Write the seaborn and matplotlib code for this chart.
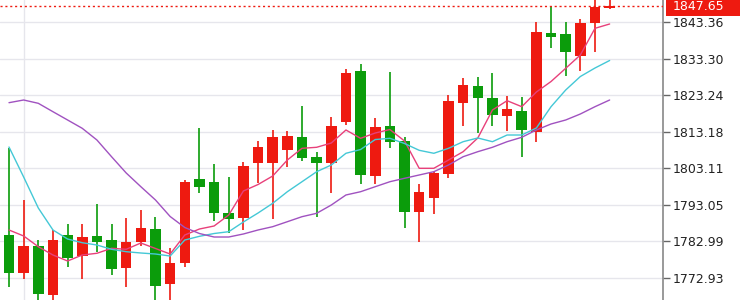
import numpy as np
import pandas as pd
import matplotlib
matplotlib.use("Agg")
import matplotlib.pyplot as plt
import matplotlib.transforms as mtransforms
from matplotlib.patches import Rectangle
import seaborn as sns

# ---- data ----
opens = [1784.76, 1774.39, 1781.74, 1768.26, 1784.85, 1778.99, 1784.49, 1783.39, 1775.82, 1782.76,
         1786.50, 1771.20, 1777.14, 1800.09, 1799.34, 1790.73, 1789.36, 1804.49, 1804.49, 1808.15,
         1811.64, 1806.14, 1804.65, 1815.77, 1829.96, 1801.08, 1814.83, 1810.71, 1791.01, 1795.02,
         1801.46, 1821.16, 1825.84, 1822.53, 1817.50, 1818.88, 1813.18, 1840.25, 1839.98, 1834.09,
         1843.00, 1847.30]
highs = [1808.83, 1794.39, 1783.39, 1786.14, 1787.71, 1787.71, 1793.21, 1787.71, 1789.52, 1791.64,
         1789.63, 1781.10, 1799.89, 1814.28, 1804.30, 1800.64, 1804.93, 1810.71, 1813.65, 1813.46,
         1820.25, 1807.68, 1817.14, 1830.35, 1831.81, 1816.87, 1829.69, 1811.64, 1798.71, 1802.18,
         1823.28, 1828.04, 1828.15, 1829.25, 1823.09, 1822.81, 1843.28, 1847.84, 1843.28, 1844.19,
         1850.00, 1850.00]
lows = [1770.32, 1772.58, 1766.33, 1766.61, 1776.04, 1772.58, 1780.09, 1773.68, 1770.38, 1781.74,
        1766.33, 1766.33, 1775.88, 1796.24, 1788.62, 1785.23, 1786.14, 1799.15, 1789.17, 1803.39,
        1805.20, 1789.80, 1796.40, 1815.02, 1798.71, 1798.71, 1808.61, 1786.61, 1782.92, 1790.54,
        1800.36, 1814.83, 1812.74, 1814.83, 1813.37, 1806.14, 1810.43, 1836.12, 1828.59, 1829.88,
        1835.02, 1846.94]
closes = [1774.39, 1781.82, 1768.53, 1783.39, 1778.52, 1784.13, 1782.84, 1775.33, 1782.89, 1786.77,
          1770.73, 1776.98, 1799.43, 1797.89, 1790.90, 1789.17, 1803.61, 1808.89, 1811.81, 1812.08,
          1806.03, 1804.49, 1814.75, 1829.25, 1801.27, 1814.56, 1810.27, 1791.01, 1796.51, 1801.74,
          1821.63, 1826.03, 1822.37, 1817.78, 1819.43, 1813.65, 1840.53, 1839.15, 1835.19, 1843.00,
          1847.50, 1847.65]
ma_fast = [1786.14, 1784.49, 1781.54, 1779.26, 1777.61, 1779.26, 1779.73, 1781.10, 1780.83, 1782.56,
           1781.05, 1779.53, 1784.76, 1786.41, 1787.24, 1790.26, 1796.87, 1798.65, 1800.99, 1805.39,
           1808.61, 1808.89, 1810.07, 1813.65, 1811.36, 1812.82, 1813.78, 1810.62, 1803.11, 1803.11,
           1805.39, 1807.68, 1811.45, 1819.15, 1821.71, 1820.06, 1824.10, 1826.99, 1830.62, 1834.28,
           1841.62, 1842.81]
ma_mid = [1808.97, 1800.72, 1792.19, 1786.14, 1783.66, 1782.64, 1782.01, 1780.83, 1780.17, 1779.81,
          1779.53, 1778.98, 1783.39, 1784.40, 1785.17, 1785.67, 1788.34, 1790.81, 1793.48, 1796.67,
          1799.42, 1802.17, 1804.02, 1807.24, 1808.28, 1811.03, 1811.36, 1809.93, 1808.06, 1807.24,
          1808.61, 1810.43, 1811.45, 1810.43, 1812.27, 1812.27, 1814.20, 1820.06, 1824.65, 1828.36,
          1830.70, 1832.77]
ma_slow = [1821.16, 1821.90, 1820.99, 1818.68, 1816.40, 1814.11, 1810.90, 1806.30, 1801.82, 1798.05,
           1794.39, 1789.85, 1786.82, 1785.17, 1784.21, 1784.21, 1785.04, 1786.14, 1787.05, 1788.42,
           1789.80, 1790.73, 1793.01, 1795.77, 1796.67, 1798.05, 1799.42, 1800.36, 1801.27, 1802.18,
           1804.02, 1806.30, 1807.68, 1808.89, 1810.43, 1811.64, 1813.65, 1815.30, 1816.40, 1818.05,
           1820.06, 1821.90]
y_ticks = [1772.93, 1782.99, 1793.05, 1803.11, 1813.18, 1823.24, 1833.30, 1843.36]
last_price = 1847.65

UP = "#ee1a10"
DOWN = "#0b9c0b"

sns.set_style("white")
plt.rcParams['font.family'] = ['DejaVu Sans']

fig = plt.figure(figsize=(7.4, 3.0), dpi=100)
ax = fig.add_axes([0, 0, 663 / 740, 1])

n = len(opens)
idx = np.arange(n)
df = pd.DataFrame({"i": idx, "open": opens, "high": highs, "low": lows, "close": closes})
df["up"] = df["close"] >= df["open"]
colors = np.where(df["up"], UP, DOWN)

# grid
for t in y_ticks:
    ax.axhline(t, color="#e6e6ec", lw=1.0, zorder=0)
ax.axvline(1, color="#e6e6ec", lw=1.0, zorder=0)

# wicks and bodies
ax.vlines(df["i"], df["low"], df["high"], colors=colors, lw=1.2, zorder=2)
bottoms = np.minimum(df["open"], df["close"])
heights = np.maximum(np.abs(df["close"] - df["open"]), 0.35)
ax.bar(df["i"], heights, bottom=bottoms, width=0.72, color=colors, linewidth=0, zorder=3)

# moving averages via seaborn
ma_df = pd.DataFrame({
    "i": np.concatenate([idx, idx, idx]),
    "value": np.concatenate([ma_fast, ma_mid, ma_slow]),
    "ma": ["fast"] * n + ["mid"] * n + ["slow"] * n,
})
sns.lineplot(data=ma_df, x="i", y="value", hue="ma",
             palette={"fast": "#e8407a", "mid": "#44c8d6", "slow": "#a052c0"},
             lw=1.0, legend=False, ax=ax, zorder=4)

# last price dotted line
ax.axhline(last_price, color="#ee1a10", lw=1.0, ls=(0, (1.5, 2)), zorder=5)

ax.set_xlim(-0.614, -0.614 + 663 / 14.65)
ax.set_ylim(1766.88, 1849.41)
ax.set_xlabel("")
ax.set_ylabel("")
ax.set_xticks([])

ax.yaxis.tick_right()
ax.set_yticks(y_ticks)
ax.set_yticklabels([f"{t:.2f}" for t in y_ticks])
ax.tick_params(axis="y", which="both", right=True, length=5, width=1, color="#666666",
               labelsize=9, labelcolor="#222222", pad=2)
for s in ["top", "left", "bottom"]:
    ax.spines[s].set_visible(False)
ax.spines["right"].set_color("#888888")
ax.spines["right"].set_linewidth(1.2)

# last price label
trans = mtransforms.blended_transform_factory(ax.transAxes, ax.transData)
ax.add_patch(Rectangle((666 / 663, last_price - 2.6), 80 / 663, 5.3, transform=trans,
                       facecolor="#ee1a10", edgecolor="none", clip_on=False, zorder=6))
ax.text(673 / 663, last_price, f"{last_price:.2f}", transform=trans, color="white",
        fontsize=9, va="center", ha="left", clip_on=False, zorder=7)

fig.savefig("out.png", dpi=100)
